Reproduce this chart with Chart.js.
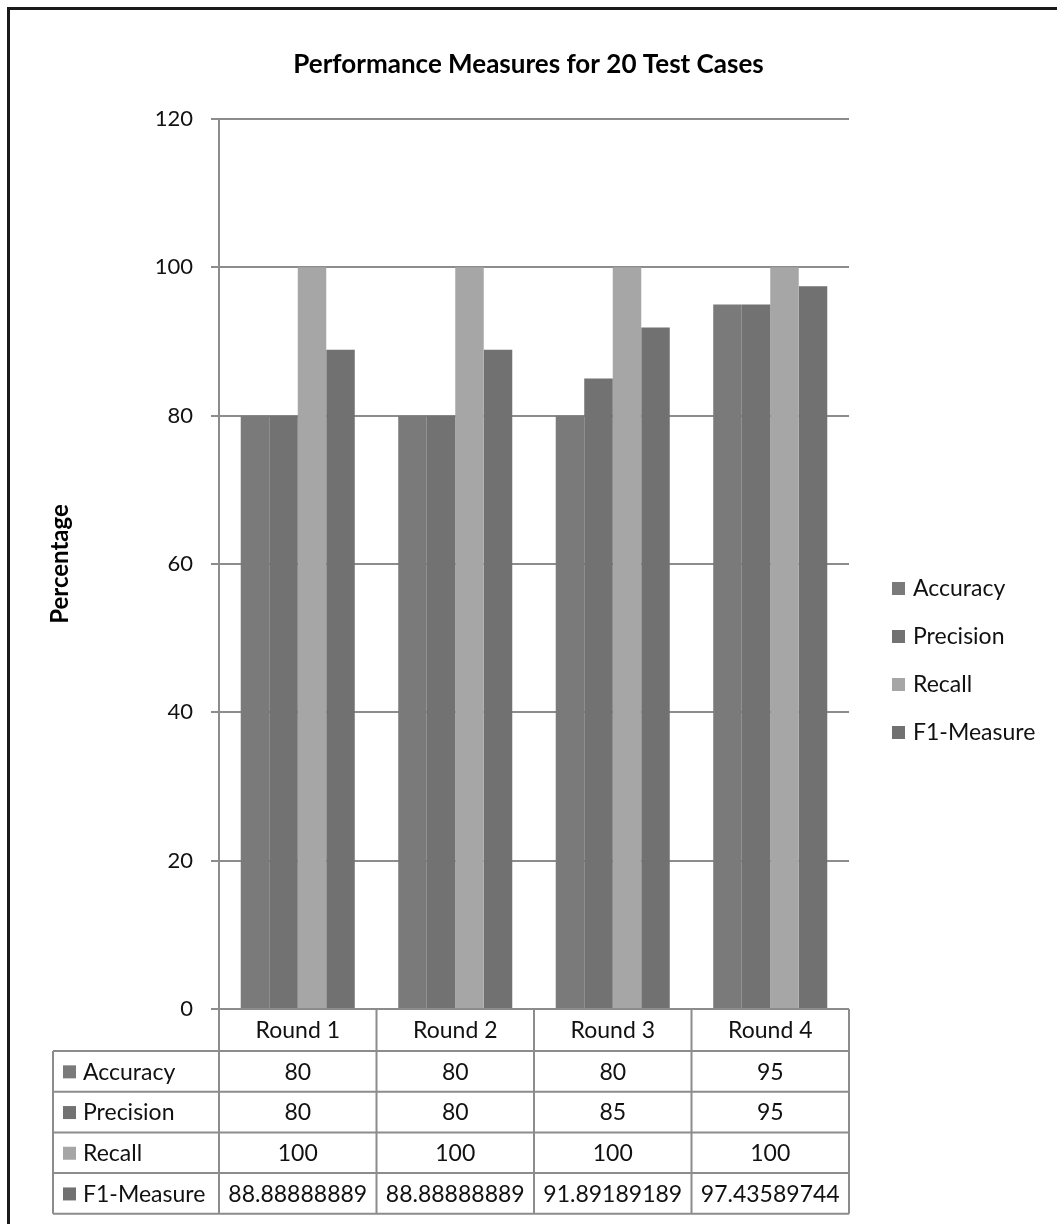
<!DOCTYPE html>
<html>
<head>
<meta charset="utf-8">
<script src="https://cdn.jsdelivr.net/npm/chart.js@4/dist/chart.umd.min.js"></script>
<style>
  html, body { margin: 0; padding: 0; background: #ffffff; }
  #wrap { position: relative; width: 1057px; height: 1224px; }
</style>
</head>
<body>
<div id="wrap"><canvas id="chart"></canvas></div>
<script>
// Rounds on the category axis
const rounds = ['Round 1', 'Round 2', 'Round 3', 'Round 4'];

// Measures per round (percent)
const accuracy  = [80, 80, 80, 95];
const precision = [80, 80, 85, 95];
const recall    = [100, 100, 100, 100];
const f1Measure = [88.88888889, 88.88888889, 91.89189189, 97.43589744];

// Text shown in the data table under the plot
const accuracyText  = ['80', '80', '80', '95'];
const precisionText = ['80', '80', '85', '95'];
const recallText    = ['100', '100', '100', '100'];
const f1Text        = ['88.88888889', '88.88888889', '91.89189189', '97.43589744'];

const yTicks = [0, 20, 40, 60, 80, 100, 120];

const FONT = 'Lato, "Open Sans", sans-serif';
const GRID = '#8c8c8c';
const INK = '#111111';

const series = [
  { label: 'Accuracy',   data: accuracy,  text: accuracyText,  color: '#7a7a7a' },
  { label: 'Precision',  data: precision, text: precisionText, color: '#727272' },
  { label: 'Recall',     data: recall,    text: recallText,    color: '#a6a6a6' },
  { label: 'F1-Measure', data: f1Measure, text: f1Text,        color: '#717171' }
];

// Frame, title, legend and data table drawn around the plot
const extras = {
  id: 'extras',
  afterDraw(chart) {
    const ctx = chart.ctx;
    const x = chart.scales.x;
    const area = chart.chartArea;
    ctx.save();

    // outer frame
    ctx.fillStyle = '#1a1a1a';
    ctx.fillRect(7, 7, chart.width - 7, 3);
    ctx.fillRect(7, 7, 3, chart.height - 7);

    // title
    ctx.fillStyle = '#000';
    ctx.font = 'bold 26px ' + FONT;
    ctx.textAlign = 'center';
    ctx.textBaseline = 'middle';
    ctx.fillText('Performance Measures for 20 Test Cases', chart.width / 2, 65);

    // legend
    ctx.font = '23px ' + FONT;
    ctx.textAlign = 'left';
    series.forEach((s, i) => {
      const cy = 588 + i * 48;
      ctx.fillStyle = s.color;
      ctx.fillRect(892, cy - 6, 13, 13);
      ctx.fillStyle = INK;
      ctx.fillText(s.label, 913, cy + 1);
    });

    // data table
    const n = rounds.length;
    const edges = [];
    for (let i = 0; i <= n; i++) edges.push(x.getPixelForValue(i - 0.5));
    const top = area.bottom;
    const headerBottom = top + 42;
    const rowH = 40.7;
    const tableLeft = 53;
    const tableBottom = headerBottom + rowH * series.length;

    ctx.strokeStyle = GRID;
    ctx.lineWidth = 2;
    ctx.beginPath();
    // vertical rules
    edges.forEach(ex => { ctx.moveTo(ex, top); ctx.lineTo(ex, tableBottom); });
    ctx.moveTo(tableLeft, headerBottom); ctx.lineTo(tableLeft, tableBottom);
    // horizontal rules
    ctx.moveTo(edges[0], top); ctx.lineTo(edges[n], top);
    for (let r = 0; r <= series.length; r++) {
      const yy = headerBottom + r * rowH;
      ctx.moveTo(tableLeft, yy); ctx.lineTo(edges[n], yy);
    }
    ctx.stroke();

    ctx.font = '23px ' + FONT;
    ctx.textBaseline = 'middle';
    ctx.fillStyle = INK;
    ctx.textAlign = 'center';
    rounds.forEach((r, i) => {
      ctx.fillText(r, x.getPixelForValue(i), (top + headerBottom) / 2 + 1);
    });
    series.forEach((s, ri) => {
      const cy = headerBottom + ri * rowH + rowH / 2 + 1;
      ctx.fillStyle = s.color;
      ctx.fillRect(63, cy - 7, 13, 13);
      ctx.fillStyle = INK;
      ctx.textAlign = 'left';
      ctx.fillText(s.label, 83, cy);
      ctx.textAlign = 'center';
      s.text.forEach((t, ci) => ctx.fillText(t, x.getPixelForValue(ci), cy));
    });

    ctx.restore();
  }
};

new Chart(document.getElementById('chart'), {
  type: 'bar',
  data: {
    labels: rounds,
    datasets: series.map(s => ({
      label: s.label,
      data: s.data,
      backgroundColor: s.color,
      borderWidth: 0,
      barPercentage: 1,
      categoryPercentage: 0.724
    }))
  },
  options: {
    responsive: true,
    maintainAspectRatio: false,
    devicePixelRatio: 1,
    animation: false,
    layout: { padding: { left: 0, top: 119, right: 208, bottom: 215 } },
    plugins: {
      legend: { display: false },
      title: { display: false },
      tooltip: { enabled: false }
    },
    scales: {
      x: { display: false },
      y: {
        min: 0,
        max: 120,
        afterFit(scale) { scale.width = 219; },
        afterBuildTicks(scale) { scale.ticks = yTicks.map(v => ({ value: v })); },
        ticks: {
          font: { family: FONT, size: 22 },
          color: INK,
          padding: 18
        },
        grid: { color: GRID, lineWidth: 2, tickLength: 8, drawTicks: true },
        border: { color: GRID, width: 2 },
        title: {
          display: true,
          text: 'Percentage',
          font: { family: FONT, size: 24, weight: 'bold' },
          color: '#000',
          padding: { top: 46, bottom: 0 }
        }
      }
    }
  },
  plugins: [extras]
});
</script>
</body>
</html>
